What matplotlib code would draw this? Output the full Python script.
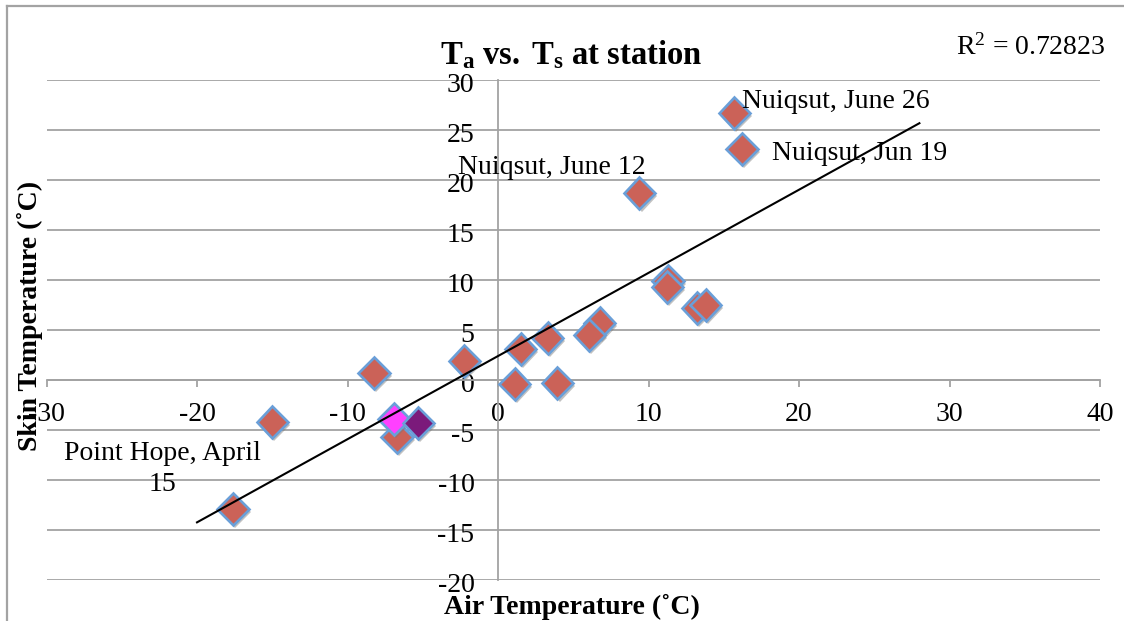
import numpy as np
import matplotlib
matplotlib.use("Agg")
import matplotlib.pyplot as plt
import matplotlib.patheffects as pe
from matplotlib.lines import Line2D
from matplotlib.transforms import ScaledTranslation

plt.rcParams['font.family'] = ['Liberation Serif', 'DejaVu Serif']
plt.rcParams['mathtext.fontset'] = 'custom'
plt.rcParams['mathtext.rm'] = 'Liberation Serif'
plt.rcParams['mathtext.it'] = 'Liberation Serif:italic'
plt.rcParams['mathtext.bf'] = 'Liberation Serif:bold'

# ---- data ----
air_temp = [15.7, 16.2, 9.4, 11.3, 11.25, 13.25, 13.8, 6.75, 6.07, 3.3, 1.5,
            -2.24, 1.1, 3.95, -8.25, -15.0, -6.7, -17.6]
skin_temp = [26.7, 23.1, 18.7, 9.9, 9.3, 7.2, 7.5, 5.7, 4.5, 4.2, 3.1,
             1.9, -0.4, -0.3, 0.7, -4.2, -5.7, -12.9]
special_air = [-6.9, -5.3]
special_skin = [-3.9, -4.3]
special_colors = ['#FF40FF', '#7B1A7B']

x_ticks = [-30, -20, -10, 0, 10, 20, 30, 40]
y_ticks = [-20, -15, -10, -5, 0, 5, 10, 15, 20, 25, 30]
trend_range = [-20, 28]

annotations = [
    ("Nuiqsut, June 26", 16.2, 27.9, 'left'),
    ("Nuiqsut, Jun 19", 18.2, 22.7, 'left'),
    ("Nuiqsut, June 12", 3.6, 21.3, 'center'),
    ("Point Hope, April\n15", -22.3, -8.9, 'center'),
]
r2_text = "R$^{2}$ = 0.72823"

# ---- figure ----
fig = plt.figure(figsize=(11.24, 6.21), dpi=100)
W, H = 1124, 621
ax = fig.add_axes([46.5 / W, 1 - 580 / H, 1053.5 / W, 500 / H])
ax.set_xlim(-30, 40)
ax.set_ylim(-20, 30)

grid_c = '#A3A3A3'
for s in ['top', 'right']:
    ax.spines[s].set_visible(False)
ax.spines['left'].set_position(('data', 0))
ax.spines['bottom'].set_position(('data', 0))
for s in ['left', 'bottom']:
    ax.spines[s].set_color(grid_c)
    ax.spines[s].set_linewidth(1.3)
ax.patch.set_alpha(0)

fs = 20
ax.set_xticks(x_ticks)
ax.set_xticklabels([str(v) for v in x_ticks])
ax.set_yticks(y_ticks)
ax.set_yticklabels([str(v) for v in y_ticks])
ax.tick_params(axis='x', direction='out', length=5, width=1.3, color=grid_c,
               labelsize=fs, pad=11)
ax.tick_params(axis='y', length=0, labelsize=fs, pad=17)
ax.yaxis.grid(True, color=grid_c, linewidth=1.3)
ax.set_axisbelow(True)
for lab in ax.get_yticklabels():
    lab.set_transform(lab.get_transform() + ScaledTranslation(0, -3 / 100, fig.dpi_scale_trans))

shadow = [pe.SimplePatchShadow(offset=(1.5, -2.5), shadow_rgbFace='#777777', alpha=0.45), pe.Normal()]
ms = 16
ax.plot(air_temp, skin_temp, linestyle='none', marker='D', markersize=ms,
        markerfacecolor='#CB6258', markeredgecolor='#6A9FD8', markeredgewidth=1.9,
        path_effects=shadow, zorder=3)
for xv, yv, c in zip(special_air, special_skin, special_colors):
    ax.plot([xv], [yv], linestyle='none', marker='D', markersize=ms,
            markerfacecolor=c, markeredgecolor='#6A9FD8', markeredgewidth=1.9,
            path_effects=shadow, zorder=3)

all_x = np.array(air_temp + special_air)
all_y = np.array(skin_temp + special_skin)
slope, icpt = np.polyfit(all_x, all_y, 1)
tx = np.array(trend_range, dtype=float)
ax.plot(tx, slope * tx + icpt, color='black', linewidth=1.5, zorder=4)

for txt, xv, yv, ha in annotations:
    ax.text(xv, yv, txt, ha=ha, va='center', fontsize=fs, linespacing=1.3, zorder=5)
ax.text(30.4, 33.3, r2_text, ha='left', va='center', fontsize=fs)

fig.text(571 / W, 1 - 55 / H, r'$\mathbf{T_a\ vs.\ T_s\ at\ station}$',
         ha='center', va='center', fontsize=23.5)
fig.text(572 / W, 1 - 607 / H, 'Air Temperature (˚C)', ha='center', va='center',
         fontsize=20, fontweight='bold')
fig.text(30 / W, 1 - 316 / H, 'Skin Temperature (˚C)', ha='center', va='center',
         fontsize=20, fontweight='bold', rotation=90)

# outer chart border (cropped on right/bottom)
fig.add_artist(Line2D([7 / W, 7 / W], [1 - 6 / H, 0], color='#A3A3A3', linewidth=1.6,
                      transform=fig.transFigure))
fig.add_artist(Line2D([7 / W, 1], [1 - 6 / H, 1 - 6 / H], color='#A3A3A3', linewidth=1.6,
                      transform=fig.transFigure))

fig.savefig('out.png', dpi=100)
